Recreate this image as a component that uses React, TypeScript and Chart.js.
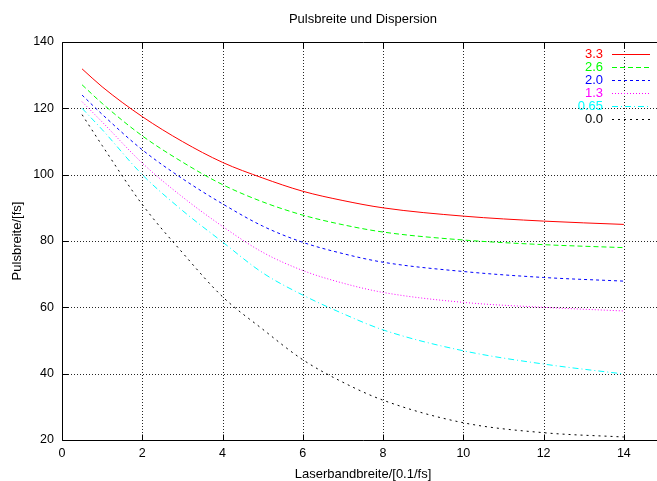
import React, { useEffect, useRef } from "react";
import { Chart, registerables } from "chart.js";

Chart.register(...registerables);

const titleText = "Pulsbreite und Dispersion";
const xTitle = "Laserbandbreite/[0.1/fs]";
const yTitle = "Pulsbreite/[fs]";

const xValues = [0.5, 1, 2, 3, 4, 5, 6, 7, 8, 10, 12, 14];
const seriesLabels = ["3.3", "2.6", "2.0", "1.3", "0.65", "0.0"];
const d33 = [131.9, 126.5, 117.5, 110.0, 103.7, 99.0, 95.0, 92.2, 90.0, 87.5, 86.0, 85.0];
const d26 = [127.1, 121.5, 111.7, 103.8, 97.0, 91.8, 87.8, 84.9, 82.7, 80.3, 78.9, 78.0];
const d20 = [124.0, 118.2, 107.5, 98.8, 91.2, 84.5, 79.6, 76.2, 73.6, 70.8, 69.0, 67.9];
const d13 = [122.0, 115.9, 103.5, 93.3, 84.4, 76.6, 71.1, 67.3, 64.5, 61.5, 60.0, 58.9];
const d065 = [120.0, 113.6, 100.0, 89.2, 79.7, 70.4, 63.7, 58.1, 53.2, 46.9, 42.9, 39.9];
const d00 = [118.1, 108.8, 91.0, 76.5, 63.2, 53.4, 44.2, 37.4, 32.0, 25.2, 22.2, 20.9];

const xTicks = [0, 2, 4, 6, 8, 10, 12, 14];
const yTicks = [20, 40, 60, 80, 100, 120, 140];

const colors = ["#ff0000", "#00ff00", "#0000ff", "#ff00ff", "#00ffff", "#000000"];
const dashes: number[][] = [[], [5, 3], [3, 3], [1, 2], [6, 3, 1, 3], [2, 4]];

const FAMILY = "'Liberation Sans', Arial, sans-serif";
const FONT = "13px " + FAMILY;

const decorPlugin = {
  id: "decor",
  beforeDatasetsDraw(chart: any) {
    const { ctx, chartArea, scales } = chart;
    const { left, right, top, bottom } = chartArea;
    const xs = scales.x;
    const ys = scales.y;
    ctx.save();
    ctx.strokeStyle = "rgba(0,0,0,0.85)";
    ctx.lineWidth = 1;
    ctx.setLineDash([1, 2]);
    for (const v of xTicks) {
      if (v === 0) continue;
      const px = Math.round(xs.getPixelForValue(v)) + 0.5;
      ctx.beginPath();
      ctx.moveTo(px, top);
      ctx.lineTo(px, bottom);
      ctx.stroke();
    }
    for (const v of yTicks) {
      if (v === 20 || v === 140) continue;
      const py = Math.round(ys.getPixelForValue(v)) + 0.5;
      ctx.beginPath();
      ctx.moveTo(left, py);
      ctx.lineTo(right, py);
      ctx.stroke();
    }
    ctx.setLineDash([]);
    ctx.strokeStyle = "#000";
    const l = Math.round(left) + 0.5;
    const t = Math.round(top) + 0.5;
    const b = Math.round(bottom) + 0.5;
    ctx.beginPath();
    ctx.moveTo(right, t);
    ctx.lineTo(l, t);
    ctx.lineTo(l, b);
    ctx.lineTo(right, b);
    ctx.stroke();
    for (const v of xTicks) {
      const px = Math.round(xs.getPixelForValue(v)) + 0.5;
      ctx.beginPath();
      ctx.moveTo(px, b);
      ctx.lineTo(px, b - 6);
      ctx.moveTo(px, t);
      ctx.lineTo(px, t + 6);
      ctx.stroke();
    }
    for (const v of yTicks) {
      const py = Math.round(ys.getPixelForValue(v)) + 0.5;
      ctx.beginPath();
      ctx.moveTo(l, py);
      ctx.lineTo(l + 6, py);
      ctx.stroke();
    }
    ctx.restore();
  },
  afterDraw(chart: any) {
    const { ctx, chartArea } = chart;
    const { left, right, top, bottom } = chartArea;
    ctx.save();
    ctx.font = FONT;
    ctx.fillStyle = "#000";
    ctx.textAlign = "center";
    ctx.textBaseline = "middle";
    const cx = (left + right) / 2;
    ctx.fillText(titleText, cx, 19);
    ctx.fillText(xTitle, cx, 474);
    ctx.save();
    ctx.translate(17, (top + bottom) / 2);
    ctx.rotate(-Math.PI / 2);
    ctx.fillText(yTitle, 0, 0);
    ctx.restore();
    const rowYs = [54, 67, 80, 93, 106, 119];
    for (let i = 0; i < seriesLabels.length; i++) {
      const y = rowYs[i];
      ctx.textAlign = "right";
      ctx.fillStyle = colors[i];
      ctx.fillText(seriesLabels[i], 603, y);
      ctx.strokeStyle = colors[i];
      ctx.lineWidth = 1;
      ctx.setLineDash(dashes[i]);
      ctx.beginPath();
      ctx.moveTo(612, y + 0.5);
      ctx.lineTo(650, y + 0.5);
      ctx.stroke();
    }
    ctx.restore();
  },
};

export default function App() {
  const canvasRef = useRef<HTMLCanvasElement | null>(null);

  useEffect(() => {
    const canvas = canvasRef.current;
    if (!canvas) return;
    const all = [d33, d26, d20, d13, d065, d00];
    const chart = new Chart(canvas, {
      type: "line",
      data: {
        datasets: all.map((vals, i) => ({
          label: seriesLabels[i],
          data: xValues.map((x, j) => ({ x, y: vals[j] })),
          borderColor: colors[i],
          backgroundColor: colors[i],
          borderWidth: 1,
          borderDash: dashes[i],
          pointRadius: 0,
          fill: false,
          cubicInterpolationMode: "monotone",
        })),
      },
      options: {
        animation: false,
        responsive: false,
        devicePixelRatio: 1,
        layout: { padding: { left: 0, right: 1, top: 42, bottom: 0 } },
        plugins: {
          legend: { display: false },
          title: { display: false },
          tooltip: { enabled: false },
        },
        events: [],
        scales: {
          x: {
            type: "linear",
            min: 0,
            max: 15,
            grid: { display: false, drawTicks: false },
            border: { display: false },
            afterBuildTicks: (s: any) => {
              s.ticks = xTicks.map((v) => ({ value: v }));
            },
            afterFit: (s: any) => {
              s.height = 41;
            },
            ticks: {
              color: "#000",
              padding: 6,
              maxRotation: 0,
              autoSkip: false,
              font: { family: FAMILY, size: 12.5 },
            },
          },
          y: {
            type: "linear",
            min: 20,
            max: 140,
            grid: { display: false, drawTicks: false },
            border: { display: false },
            afterBuildTicks: (s: any) => {
              s.ticks = yTicks.map((v) => ({ value: v }));
            },
            afterFit: (s: any) => {
              s.width = 62;
            },
            ticks: {
              color: "#000",
              padding: 8,
              autoSkip: false,
              font: { family: FAMILY, size: 12.5 },
            },
          },
        },
      },
      plugins: [decorPlugin],
    } as any);
    return () => chart.destroy();
  }, []);

  return (
    <div
      style={{
        position: "fixed",
        left: 0,
        top: 0,
        width: 657,
        height: 481,
        overflow: "hidden",
        background: "#fff",
      }}
    >
      <canvas ref={canvasRef} width={665} height={481} style={{ width: 665, height: 481, display: "block" }} />
    </div>
  );
}
